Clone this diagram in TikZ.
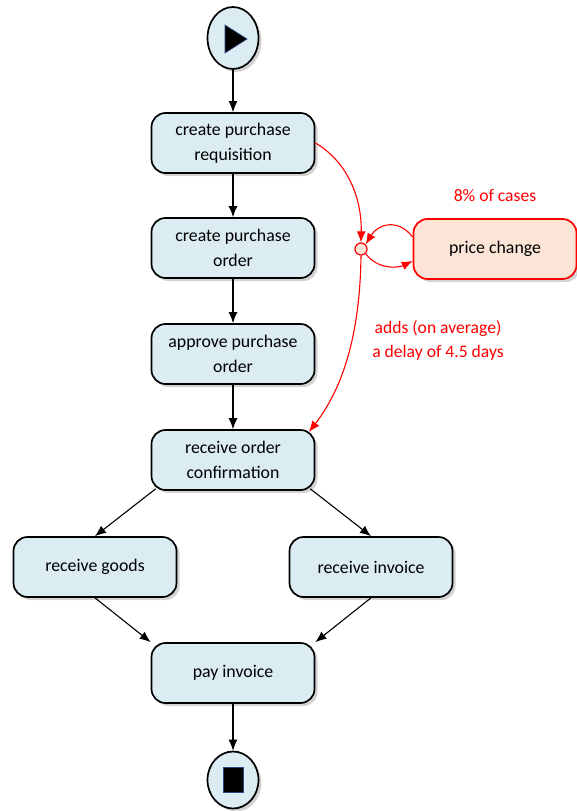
\documentclass[tikz,border=0pt]{standalone}
\usepackage{fontspec}
\setmainfont{Carlito}
\usetikzlibrary{shapes.geometric,shadows,arrows.meta}
\definecolor{boxfill}{RGB}{219,236,243}
\definecolor{peach}{RGB}{252,229,214}
\definecolor{tipedge}{RGB}{45,70,130}
\tikzset{
  shade/.style={drop shadow={opacity=0.35,shadow xshift=3pt,shadow yshift=-3pt}},
  task/.style={draw,line width=1.7pt,rounded corners=14pt,fill=boxfill,
    minimum width=163pt,minimum height=60pt,align=center,font=\fontsize{17.8}{25}\selectfont,shade},
  redtask/.style={task,draw=red,fill=peach},
  terminal/.style={ellipse,draw,line width=1.7pt,fill=boxfill,minimum width=51pt,minimum height=60pt,inner sep=0pt,shade},
  flow/.style={line width=1.1pt,-{Latex[length=11pt,width=9pt]}},
  redflow/.style={red,line width=1.1pt,-{Latex[length=11pt,width=9pt]}},
  note/.style={text=red,align=center,font=\fontsize{17.6}{24}\selectfont}
}
\begin{document}
\begin{tikzpicture}[x=1pt,y=-1pt]
\useasboundingbox (0,0) rectangle (577,811);

% start and end events
\node[terminal,minimum height=62pt] (start) at (233,38) {};
\fill[black,draw=tipedge,line width=0.6pt] (225,25) -- (225,53) -- (247,39) -- cycle;
\node[terminal,minimum height=57pt] (end) at (233,780) {};
\fill[black,draw=tipedge,line width=0.6pt] (223,767) rectangle (243,792);

% activities
\node[task] (cpr) at (233,143) {create purchase\\requisition};
\node[task] (cpo) at (233,248) {create purchase\\order};
\node[task] (apo) at (233,354) {approve purchase\\order};
\node[task] (roc) at (233,460) {receive order\\confirmation};
\node[task] (goods) at (95,567) {receive goods};
\node[task] (inv) at (371,567) {receive invoice};
\node[task] (pay) at (233,673) {pay invoice};
\node[redtask] (pc) at (495,249) {price change};

% junction for the rework loop
\node[circle,draw=red,line width=1.2pt,fill=peach,minimum size=12pt,inner sep=0pt] (hub) at (361,249) {};

% labels
\node[note] (share) at (495,196) {8\% of cases};
\node[note] (delay) at (438,340) {adds (on average)\\a delay of 4.5 days};

% main flow
\draw[flow] (start) -- (cpr);
\draw[flow] (cpr) -- (cpo);
\draw[flow] (cpo) -- (apo);
\draw[flow] (apo) -- (roc);
\draw[flow] (roc.south west) ++(5,-2) coordinate (rocl) (rocl) -- (goods.north);
\draw[flow] (roc.south east) ++(-5,-2) coordinate (rocr) (rocr) -- (inv.north);
\draw[flow] (goods.south) -- (pay.north west);
\draw[flow] (inv.south) -- (pay.north east);
\draw[flow] (pay) -- (end);

% price change detour
\coordinate (roctop) at (309,432);
\draw[redflow] (cpr.east) .. controls (345,160) and (362,195) .. (hub.north);
\draw[redflow] (pc.west) ++(0,-12) coordinate (pcl) (pcl) .. controls (398,218) and (378,224) .. (hub.north east);
\path (pc.west) ++(0,12) coordinate (pcr);
\draw[redflow] (hub.south east) .. controls (378,270) and (398,268) .. (pcr);
\draw[redflow] (hub.south) .. controls (360,330) and (345,385) .. (roctop);
\end{tikzpicture}
\end{document}
